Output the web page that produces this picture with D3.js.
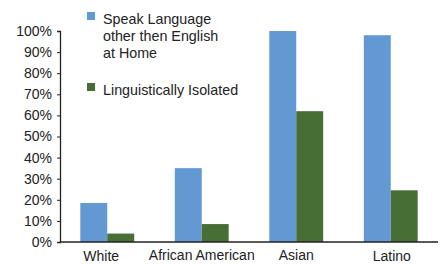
<!DOCTYPE html>
<html>
<head>
<meta charset="utf-8">
<script src="https://cdn.jsdelivr.net/npm/d3@7"></script>
<style>
  body { margin: 0; background: #fff; }
  text { font-family: "Liberation Sans", Arial, sans-serif; fill: #222; }
</style>
</head>
<body>
<div id="chart"></div>
<script>
const categories = ["White", "African American", "Asian", "Latino"];
const speakOther = [18.5, 35, 100, 98];
const isolated = [4, 8.5, 62, 24.5];
const yTicks = [0, 10, 20, 30, 40, 50, 60, 70, 80, 90, 100];
const seriesNames = ["Speak Language\nother then English\nat Home", "Linguistically Isolated"];

const colors = ["#6399d3", "#476f35"];

const width = 442, height = 264;
const margin = { top: 31, left: 60, right: 4, bottom: 22 };

const svg = d3.select("#chart")
    .append("svg")
    .attr("width", width)
    .attr("height", height);

const x = d3.scaleBand()
    .domain(categories)
    .range([margin.left, width - margin.right])
    .paddingInner(0.43)
    .paddingOuter(0.215);

const y = d3.scaleLinear()
    .domain([0, 100])
    .range([height - margin.bottom, margin.top]);

const barW = x.bandwidth() / 2;

const series = [speakOther, isolated];
series.forEach(function (values, s) {
    svg.append("g")
        .selectAll("rect")
        .data(values)
        .enter()
        .append("rect")
        .attr("x", (d, i) => x(categories[i]) + s * barW)
        .attr("y", d => y(d))
        .attr("width", barW)
        .attr("height", d => y(0) - y(d))
        .attr("fill", colors[s]);
});

// y axis
const yAxis = d3.axisLeft(y)
    .tickValues(yTicks)
    .tickFormat(d => d + "%")
    .tickSize(3)
    .tickPadding(5);

const yg = svg.append("g")
    .attr("transform", "translate(" + margin.left + ",0)")
    .call(yAxis);
yg.selectAll("text").style("font-size", "14px");
yg.selectAll("line").attr("stroke", "#222");
yg.select(".domain").attr("stroke", "#222").attr("stroke-width", 1.3);

// x axis
const xAxis = d3.axisBottom(x).tickSize(0).tickPadding(8);
const xg = svg.append("g")
    .attr("transform", "translate(0," + y(0) + ")")
    .call(xAxis);
xg.select(".domain").attr("stroke", "#222").attr("stroke-width", 1.5)
    .attr("d", "M" + margin.left + ",0H" + (width - margin.right));
// labels in the original sit a little unevenly
const labelNudge = { "White": [-6, 1], "Latino": [1, 1] };
xg.selectAll(".tick text")
    .style("font-size", "14px")
    .attr("transform", d => labelNudge[d] ? "translate(" + labelNudge[d][0] + "," + labelNudge[d][1] + ")" : null);

// legend
const legend = svg.append("g").attr("transform", "translate(87,12)");
seriesNames.forEach(function (name, s) {
    const oy = s === 0 ? 0 : 71;
    legend.append("rect")
        .attr("x", 0).attr("y", oy)
        .attr("width", 8).attr("height", 8)
        .attr("fill", colors[s]);
    const t = legend.append("text")
        .attr("x", 16).attr("y", oy + 12)
        .style("font-size", "14.3px");
    name.split("\n").forEach(function (line, k) {
        t.append("tspan").attr("x", 16).attr("dy", k === 0 ? 0 : 17).text(line);
    });
});
</script>
</body>
</html>
